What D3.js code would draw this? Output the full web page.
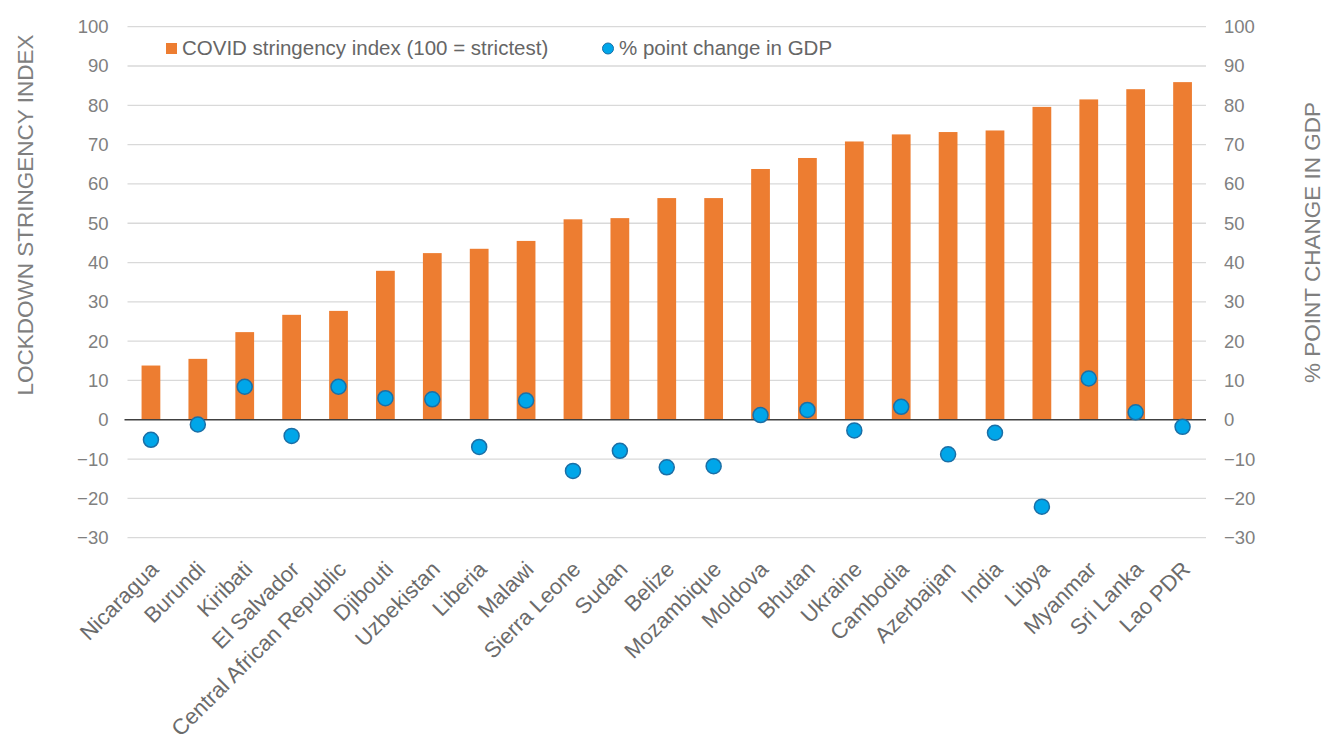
<!DOCTYPE html>
<html>
<head>
<meta charset="utf-8">
<script src="https://cdn.jsdelivr.net/npm/d3@7"></script>
<style>
  html, body { margin: 0; padding: 0; background: #fff; }
  svg { display: block; font-family: "Liberation Sans", Arial, sans-serif; }
</style>
</head>
<body>
<svg id="chart" width="1324" height="743"></svg>
<script>
// Countries, ordered by lockdown stringency
const countries = ["Nicaragua", "Burundi", "Kiribati", "El Salvador", "Central African Republic",
  "Djibouti", "Uzbekistan", "Liberia", "Malawi", "Sierra Leone", "Sudan", "Belize",
  "Mozambique", "Moldova", "Bhutan", "Ukraine", "Cambodia", "Azerbaijan", "India",
  "Libya", "Myanmar", "Sri Lanka", "Lao PDR"];

// COVID stringency index (100 = strictest)
const stringency = [13.8, 15.5, 22.3, 26.7, 27.7, 37.9, 42.4, 43.5, 45.5, 51.0, 51.3, 56.4,
  56.4, 63.8, 66.6, 70.8, 72.6, 73.2, 73.6, 79.6, 81.5, 84.1, 85.9];

// % point change in GDP
const gdpChange = [-5.1, -1.2, 8.4, -4.1, 8.4, 5.5, 5.2, -6.9, 4.9, -13.0, -7.9, -12.1,
  -11.8, 1.2, 2.5, -2.7, 3.3, -8.8, -3.3, -22.1, 10.5, 1.9, -1.8];

// Shared tick values for both vertical axes
const tickValues = [-30, -20, -10, 0, 10, 20, 30, 40, 50, 60, 70, 80, 90, 100];

const svg = d3.select("#chart");
const plot = { left: 127.5, right: 1206, top: 26.7, bottom: 537.7 };
const font = "'Liberation Sans', Arial, sans-serif";

const x = d3.scaleBand()
  .domain(countries)
  .range([plot.left, plot.right])
  .paddingInner(0.6)
  .paddingOuter(0.3);

const yLeft = d3.scaleLinear().domain([-30, 100]).range([plot.bottom, plot.top]);
const yRight = d3.scaleLinear().domain([-30, 100]).range([plot.bottom, plot.top]);

// Horizontal gridlines
svg.append("g")
  .selectAll("line")
  .data(tickValues.filter(d => d !== 0))
  .join("line")
  .attr("x1", plot.left)
  .attr("x2", plot.right)
  .attr("y1", d => yLeft(d))
  .attr("y2", d => yLeft(d))
  .attr("stroke", "#d9d9d9")
  .attr("stroke-width", 1.3);

// Left axis
const leftAxis = svg.append("g")
  .attr("transform", `translate(${plot.left - 19},0)`)
  .call(d3.axisLeft(yLeft).tickValues(tickValues).tickSize(0).tickPadding(0));
leftAxis.select(".domain").remove();
leftAxis.selectAll("text")
  .attr("fill", "#808080")
  .style("font-size", "18.5px")
  .style("font-family", font);

// Right axis
const rightAxis = svg.append("g")
  .attr("transform", `translate(${plot.right + 18},0)`)
  .call(d3.axisRight(yRight).tickValues(tickValues).tickSize(0).tickPadding(0));
rightAxis.select(".domain").remove();
rightAxis.selectAll("text")
  .attr("fill", "#808080")
  .style("font-size", "18.5px")
  .style("font-family", font);

// Stringency bars
svg.append("g")
  .selectAll("rect")
  .data(countries)
  .join("rect")
  .attr("x", d => x(d))
  .attr("width", x.bandwidth())
  .attr("y", (d, i) => yLeft(stringency[i]))
  .attr("height", (d, i) => yLeft(0) - yLeft(stringency[i]))
  .attr("fill", "#ed7d31");

// Zero line
svg.append("line")
  .attr("x1", plot.left - 3)
  .attr("x2", plot.right)
  .attr("y1", yLeft(0))
  .attr("y2", yLeft(0))
  .attr("stroke", "#404040")
  .attr("stroke-width", 1.5);

// GDP change markers
svg.append("g")
  .selectAll("circle")
  .data(countries)
  .join("circle")
  .attr("cx", d => x(d) + x.bandwidth() / 2)
  .attr("cy", (d, i) => yRight(gdpChange[i]))
  .attr("r", 7.5)
  .attr("fill", "#00a6e9")
  .attr("stroke", "#1b6fa6")
  .attr("stroke-width", 1.5);

// Category labels, rotated
const xAxis = svg.append("g")
  .attr("transform", `translate(0,${plot.bottom})`)
  .call(d3.axisBottom(x).tickSize(0).tickPadding(0));
xAxis.select(".domain").remove();
xAxis.selectAll("text")
  .attr("fill", "#6b6b6b")
  .style("font-size", "22px")
  .style("font-family", font)
  .attr("text-anchor", "end")
  .attr("dy", null)
  .attr("y", 0)
  .attr("transform", "translate(9,33) rotate(-45)");

// Axis titles
svg.append("text")
  .attr("transform", `translate(33,215) rotate(-90)`)
  .attr("text-anchor", "middle")
  .attr("fill", "#7f7f7f")
  .style("font-size", "22.5px")
  .text("LOCKDOWN STRINGENCY INDEX");

svg.append("text")
  .attr("transform", `translate(1320,242.5) rotate(-90)`)
  .attr("text-anchor", "middle")
  .attr("fill", "#7f7f7f")
  .style("font-size", "22.5px")
  .text("% POINT CHANGE IN GDP");

// Legend
const legend = svg.append("g").style("font-size", "20.5px");
legend.append("rect")
  .attr("x", 166).attr("y", 43).attr("width", 11).attr("height", 11)
  .attr("fill", "#ed7d31");
legend.append("text")
  .attr("x", 182).attr("y", 55)
  .attr("fill", "#666666")
  .text("COVID stringency index (100 = strictest)");
legend.append("circle")
  .attr("cx", 608).attr("cy", 48.5).attr("r", 5.5)
  .attr("fill", "#00a6e9").attr("stroke", "#1b6fa6").attr("stroke-width", 1);
legend.append("text")
  .attr("x", 619).attr("y", 55)
  .attr("fill", "#666666")
  .text("% point change in GDP");
</script>
</body>
</html>
